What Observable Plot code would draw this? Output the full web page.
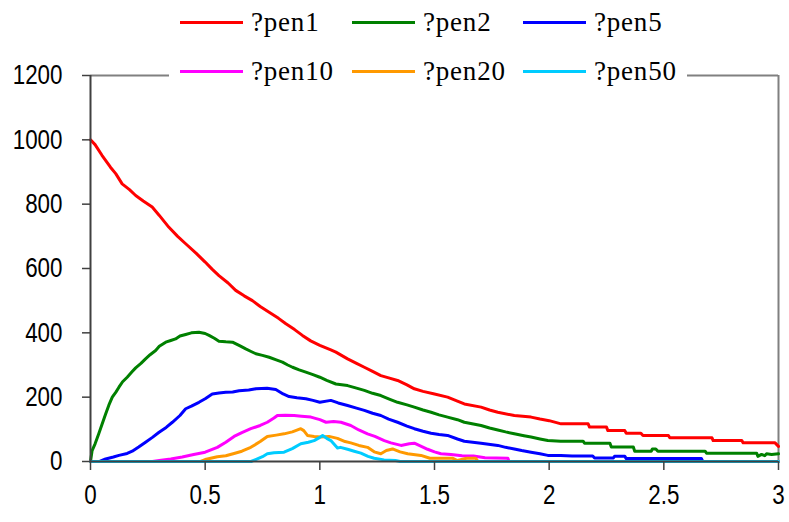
<!DOCTYPE html>
<html>
<head>
<meta charset="utf-8">
<script src="https://cdn.jsdelivr.net/npm/d3@7"></script>
<script src="https://cdn.jsdelivr.net/npm/@observablehq/plot@0.6"></script>
<style>
  html, body { margin: 0; padding: 0; background: #fff; }
  #wrap { position: relative; width: 789px; height: 522px; overflow: hidden; }
  #legend { position: absolute; left: 169px; top: 0; width: 518px; height: 86px; background: #fff; }
  .sw { position: absolute; width: 63px; height: 3px; }
  .lab { position: absolute; font-family: "Liberation Serif", "Times New Roman", serif; font-size: 27px; line-height: 27px; letter-spacing: 0.8px; color: #000; white-space: nowrap; }
</style>
</head>
<body>
<div id="wrap"><div id="legend"></div></div>
<script>
// Series names and colours
const names = ["?pen1", "?pen2", "?pen5", "?pen10", "?pen20", "?pen50"];
const colors = ["#FF0000", "#008000", "#0000FF", "#FF00FF", "#FF9900", "#00CCFF"];

// Axis ticks
const xTicks = [0, 0.5, 1, 1.5, 2, 2.5, 3];
const yTicks = [0, 200, 400, 600, 800, 1000, 1200];

// pen1
const t1 = [0,0.02,0.05,0.087,0.11,0.138,0.17,0.197,0.23,0.269,0.30,0.342,0.38,0.415,0.46,0.50,0.53,0.56,0.60,0.633,0.67,0.706,0.74,0.779,0.82,0.852,0.89,0.924,0.96,1.0,1.048,1.07,1.121,1.16,1.194,1.23,1.266,1.30,1.339,1.38,1.412,1.45,1.5,1.557,1.60,1.63,1.703,1.74,1.776,1.848,1.921,1.96,2.0,2.052,2.17,2.176,2.25,2.256,2.33,2.336,2.40,2.409,2.52,2.526,2.71,2.715,2.84,2.846,2.985,3.0];
const v1 = [1000,985,952,915,895,863,845,827,810,791,765,728,700,677,648,620,598,578,555,532,515,500,482,464,445,428,410,392,375,361,347,340,319,305,293,280,267,260,252,238,226,218,210,200,188,179,169,160,153,143,138,132,127,117,117,107,107,96,96,88,88,81,81,74,74,65,65,58,58,47];

// pen2
const t2 = [0,0.007,0.02,0.036,0.05,0.066,0.08,0.095,0.11,0.124,0.14,0.16,0.18,0.197,0.22,0.24,0.26,0.284,0.30,0.328,0.35,0.371,0.39,0.415,0.44,0.473,0.50,0.517,0.54,0.56,0.59,0.619,0.65,0.677,0.70,0.721,0.75,0.779,0.81,0.837,0.86,0.881,0.91,0.939,0.97,1.0,1.03,1.07,1.121,1.16,1.194,1.23,1.266,1.30,1.339,1.38,1.412,1.45,1.485,1.52,1.557,1.60,1.63,1.703,1.74,1.776,1.81,1.848,1.89,1.921,1.96,1.994,2.05,2.148,2.154,2.265,2.271,2.367,2.373,2.445,2.45,2.465,2.474,2.68,2.686,2.905,2.91,2.926,2.94,2.948,2.97,3.0];
const v2 = [0,34,55,86,115,148,175,200,215,231,248,262,278,291,305,319,332,345,358,371,376,381,390,395,400,402,398,392,383,374,372,371,360,350,342,335,330,324,316,309,300,293,285,278,270,262,252,241,236,228,221,212,205,195,184,176,169,160,153,145,138,130,122,112,104,98,92,86,80,76,70,65,63,63,57,57,45,45,32,32,39,39,32,32,26,26,16,22,18,24,22,24];

// pen5
const t5 = [0,0.04,0.066,0.10,0.124,0.16,0.182,0.21,0.24,0.27,0.299,0.33,0.357,0.39,0.415,0.44,0.473,0.50,0.531,0.56,0.59,0.62,0.648,0.69,0.721,0.77,0.808,0.84,0.866,0.90,0.939,0.97,1.0,1.048,1.08,1.121,1.16,1.194,1.23,1.266,1.30,1.339,1.38,1.412,1.45,1.485,1.52,1.557,1.60,1.63,1.703,1.776,1.81,1.848,1.88,1.921,1.96,1.994,2.05,2.10,2.19,2.198,2.28,2.285,2.33,2.336,2.49,2.60,2.664,2.67,3.0];
const v5 = [0,0,8,14,19,25,32,45,60,75,91,106,122,143,164,172,184,195,210,213,215,216,220,222,226,228,224,210,202,198,195,190,184,190,182,174,166,159,150,143,132,122,110,102,94,88,84,81,70,63,57,50,44,39,34,29,24,19,19,17,17,11,11,16,16,9,9,9,9,0,0];

// pen10
const t10 = [0,0.27,0.30,0.35,0.40,0.45,0.50,0.553,0.59,0.626,0.66,0.699,0.74,0.771,0.80,0.815,0.85,0.888,0.92,0.961,1.0,1.027,1.06,1.092,1.135,1.17,1.208,1.24,1.281,1.31,1.354,1.39,1.412,1.44,1.47,1.5,1.528,1.572,1.62,1.67,1.72,1.82,1.825,3.0];
const v10 = [0,0,3,8,14,22,29,44,60,78,90,102,112,122,135,143,144,143,141,138,130,122,124,122,112,98,86,78,65,58,50,55,57,48,38,30,24,22,18,17,12,10,0,0];

// pen20
const t20 = [0,0.48,0.50,0.553,0.59,0.626,0.66,0.699,0.74,0.771,0.81,0.844,0.88,0.917,0.93,0.946,0.975,1.004,1.04,1.077,1.11,1.135,1.17,1.208,1.237,1.266,1.29,1.317,1.35,1.383,1.441,1.48,1.58,1.60,1.64,1.68,1.69,3.0];
const v20 = [0,0,6,15,18,25,32,44,62,78,82,86,92,102,96,81,78,76,78,72,62,58,50,44,30,24,34,39,30,24,19,10,10,3,10,10,0,0];

// pen50
const t50 = [0,0.70,0.72,0.75,0.771,0.80,0.844,0.88,0.917,0.95,0.975,1.0,1.012,1.03,1.048,1.077,1.09,1.121,1.15,1.179,1.21,1.237,1.28,1.33,1.35,3.0];
const v50 = [0,0,6,15,24,27,29,40,55,60,65,75,81,72,65,42,44,38,32,26,16,10,5,3,0,0];

const times = [t1, t2, t5, t10, t20, t50];
const values = [v1, v2, v5, v10, v20, v50];

const rows = names.flatMap((name, i) =>
  times[i].map((t, j) => ({series: name, t, v: values[i][j]}))
);

const axisColor = "#404040";
const frameColor = "#808080";

const chart = Plot.plot({
  width: 789,
  height: 522,
  marginLeft: 90,
  marginRight: 11,
  marginTop: 75,
  marginBottom: 61,
  style: {fontFamily: "'Liberation Sans', Arial, sans-serif", fontSize: "28px", color: "#000", background: "#fff"},
  x: {domain: [0, 3]},
  y: {domain: [0, 1200]},
  marks: [
    Plot.ruleY([1200], {stroke: frameColor, strokeWidth: 2}),
    Plot.ruleX([3], {stroke: frameColor, strokeWidth: 2}),
    ...names.map((name, i) =>
      Plot.line(rows.filter(d => d.series === name), {
        x: "t", y: "v", stroke: colors[i], strokeWidth: 3
      })
    ),
    Plot.ruleX([0], {stroke: axisColor, strokeWidth: 2}),
    Plot.ruleY([0], {stroke: axisColor, strokeWidth: 2}),
    Plot.axisX({ticks: xTicks, tickSize: 9, tickPadding: 14, stroke: axisColor, strokeWidth: 1.5, label: null, tickFormat: d => String(d)}),
    Plot.axisY({ticks: yTicks, tickSize: 8, tickPadding: 20, stroke: axisColor, strokeWidth: 1.5, label: null, tickFormat: d => String(d)})
  ]
});

// Narrow the tick-label glyphs horizontally, keeping each anchor in place
chart.querySelectorAll('g[aria-label$="tick label"] text').forEach(el => {
  const tr = el.getAttribute("transform");
  if (tr) {
    el.setAttribute("transform", tr + " scale(0.8,1)");
  } else {
    const x = +el.getAttribute("x") || 0, y = +el.getAttribute("y") || 0;
    el.removeAttribute("x"); el.removeAttribute("y");
    el.setAttribute("transform", `translate(${x},${y}) scale(0.8,1)`);
  }
});

const wrap = document.getElementById("wrap");
wrap.insertBefore(chart, wrap.firstChild);

// Legend: two rows of three entries
const legend = document.getElementById("legend");
const colX = [11, 183, 354];
const rowY = [22, 71];
names.forEach((name, i) => {
  const cx = colX[i % 3], cy = rowY[Math.floor(i / 3)];
  const sw = document.createElement("div");
  sw.className = "sw";
  sw.style.left = cx + "px";
  sw.style.top = (cy - 1.5) + "px";
  sw.style.background = colors[i];
  legend.appendChild(sw);
  const lab = document.createElement("div");
  lab.className = "lab";
  lab.style.left = (cx + 71) + "px";
  lab.style.top = (cy - 13) + "px";
  lab.textContent = name;
  legend.appendChild(lab);
});
</script>
</body>
</html>
